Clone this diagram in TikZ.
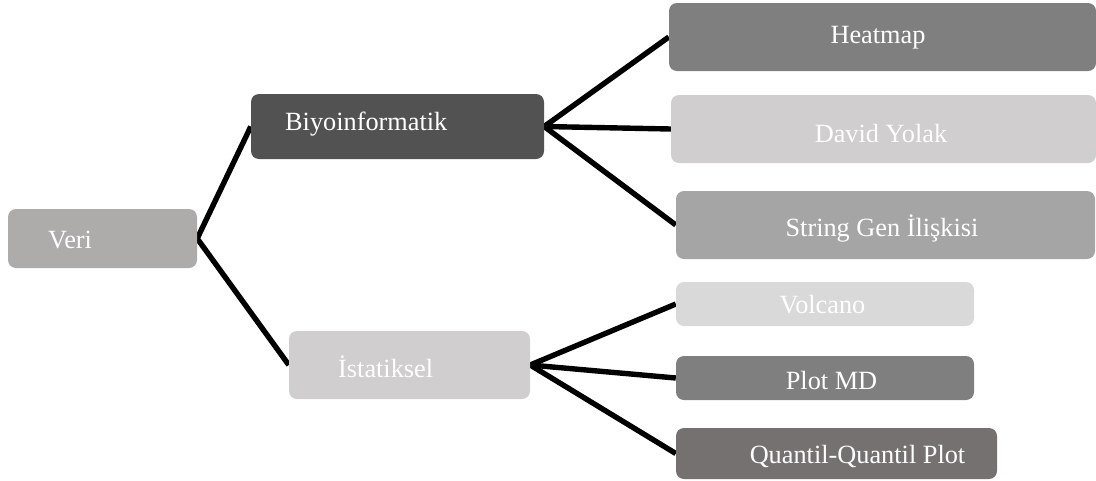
\documentclass[tikz,border=0pt]{standalone}
\usepackage{fontspec}
\setmainfont{Liberation Serif}
\usetikzlibrary{backgrounds}
\definecolor{cVeri}{HTML}{AEABAB}
\definecolor{cBiyo}{HTML}{525252}
\definecolor{cHeat}{HTML}{7F7F7F}
\definecolor{cDavid}{HTML}{D0CECE}
\definecolor{cString}{HTML}{A5A5A5}
\definecolor{cIstat}{HTML}{D0CECE}
\definecolor{cVolc}{HTML}{D9D9D9}
\definecolor{cPlot}{HTML}{7F7F7F}
\definecolor{cQuant}{HTML}{767171}
\tikzset{
  box/.style={rectangle, rounded corners=8pt, draw=none, inner sep=0pt},
  lbl/.style={text=white, inner sep=0pt, font=\fontsize{26.3}{30}\selectfont},
  link/.style={line width=5.4pt, black, line join=miter}
}
\begin{document}
\begin{tikzpicture}[x=1pt, y=-1pt]
\useasboundingbox (0,0) rectangle (1096,480);

% boxes (position = centre, size in px)
\node[box, fill=cVeri,   minimum width=189pt, minimum height=59pt] (veri)   at (102.5,238.5) {};
\node[box, fill=cBiyo,   minimum width=293pt, minimum height=65pt] (biyo)   at (397.5,126.5) {};
\node[box, fill=cIstat,  minimum width=241pt, minimum height=68pt] (istat)  at (409.5,365) {};
\node[box, fill=cHeat,   minimum width=427pt, minimum height=68pt] (heat)   at (882.5,37) {};
\node[box, fill=cDavid,  minimum width=425pt, minimum height=68pt] (david)  at (883.5,129) {};
\node[box, fill=cString, minimum width=419pt, minimum height=68pt] (string) at (885.5,225) {};
\node[box, fill=cVolc,   minimum width=298pt, minimum height=44pt] (volc)   at (825,304) {};
\node[box, fill=cPlot,   minimum width=298pt, minimum height=44pt] (plot)   at (825,378) {};
\node[box, fill=cQuant,  minimum width=321pt, minimum height=51pt] (quant)  at (836.5,453.5) {};

% labels
\node[lbl, anchor=west] (veri-t)   at (48,240)  {Veri};
\node[lbl, anchor=west] (biyo-t)   at (285,124) {Biyoinformatik};
\node[lbl, anchor=west] (istat-t)  at (338,367) {İstatiksel};
\node[lbl] (heat-t)   at (878,38)  {Heatmap};
\node[lbl] (david-t)  at (881,134) {David Yolak};
\node[lbl] (string-t) at (882,228) {String Gen İlişkisi};
\node[lbl] (volc-t)   at (822.5,305) {Volcano};
\node[lbl] (plot-t)   at (831.5,380) {Plot MD};
\node[lbl] (quant-t)  at (857.5,457) {Quantil-Quantil Plot};

% connectors behind the boxes
\begin{scope}[on background layer]
  \draw[link] (biyo.west) -- (veri.east) -- (istat.west);
  \draw[link] (heat.west) -- (biyo.east) -- (string.west);
  \draw[link] (biyo.east) -- (david.west);
  \draw[link] (volc.west) -- (istat.east) -- (quant.west);
  \draw[link] (istat.east) -- (plot.west);
\end{scope}
\end{tikzpicture}
\end{document}
